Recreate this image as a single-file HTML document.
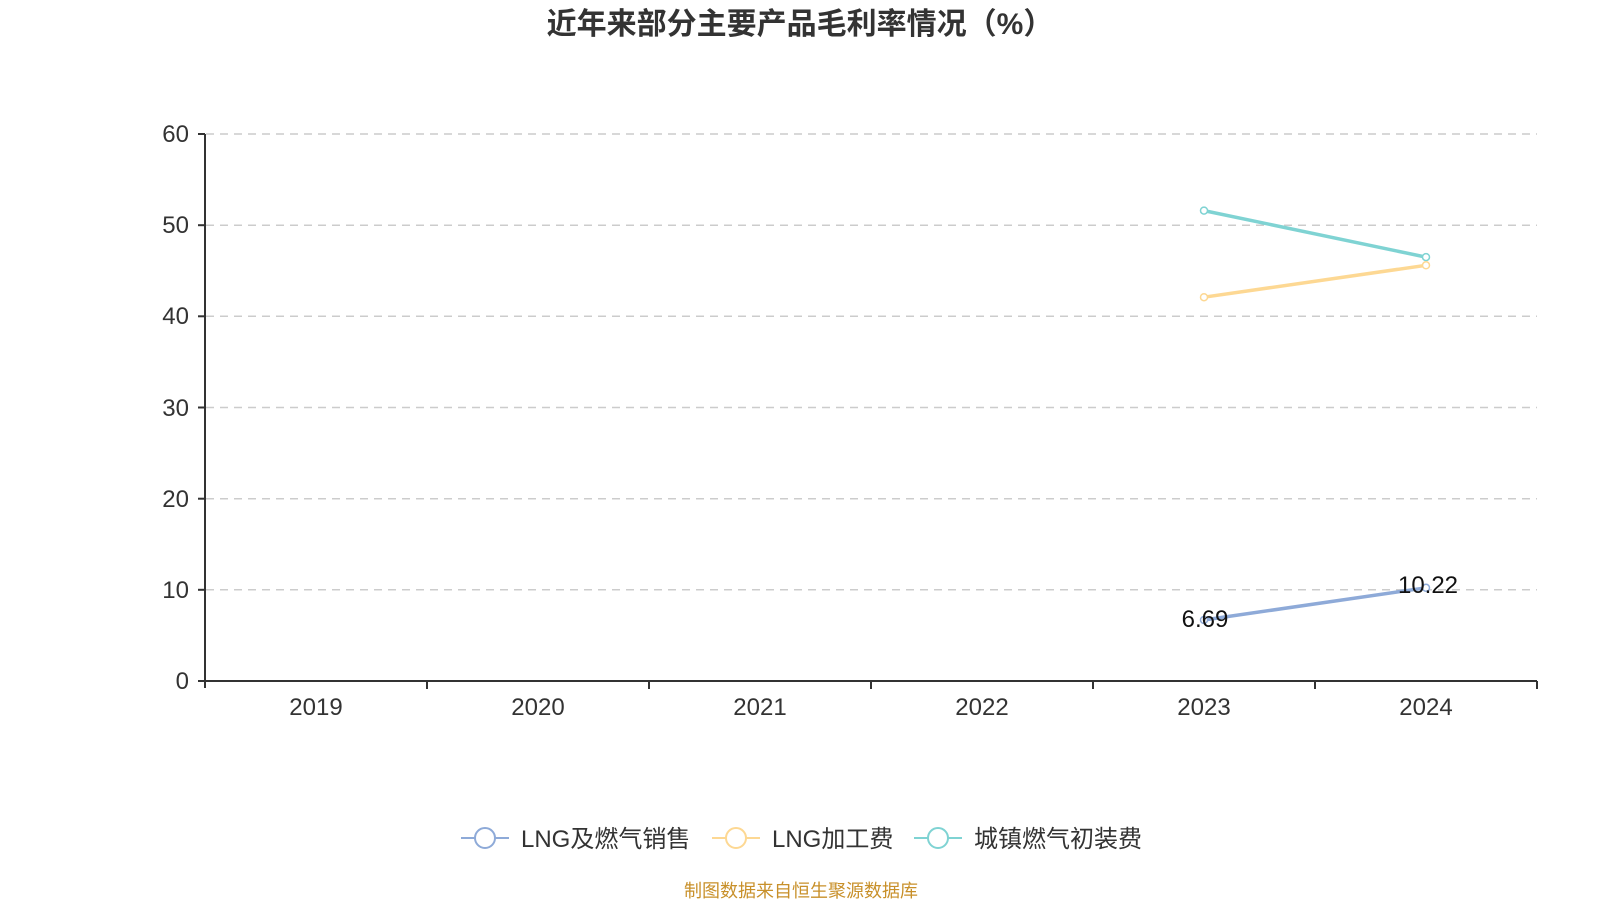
<!DOCTYPE html>
<html><head><meta charset="utf-8"><style>
body{margin:0;background:#fff;width:1600px;height:900px;overflow:hidden}
text{font-family:"Liberation Sans","Noto Sans CJK SC",sans-serif}
</style></head><body>
<svg width="1600" height="900" xmlns="http://www.w3.org/2000/svg">
<text x="800" y="34" text-anchor="middle" font-size="30" font-weight="bold" fill="#333">近年来部分主要产品毛利率情况（%）</text>
<g stroke="#ccc" stroke-width="1.5" stroke-dasharray="8,6">
<line x1="206" x2="1537" y1="134" y2="134"/>
<line x1="206" x2="1537" y1="225.2" y2="225.2"/>
<line x1="206" x2="1537" y1="316.3" y2="316.3"/>
<line x1="206" x2="1537" y1="407.5" y2="407.5"/>
<line x1="206" x2="1537" y1="498.7" y2="498.7"/>
<line x1="206" x2="1537" y1="589.8" y2="589.8"/>
</g>
<g stroke="#333" stroke-width="2">
<line x1="205" y1="134" x2="205" y2="688"/>
<line x1="205" y1="681" x2="1537" y2="681"/>
<line x1="198" x2="205" y1="134" y2="134"/><line x1="198" x2="205" y1="225.2" y2="225.2"/>
<line x1="198" x2="205" y1="316.3" y2="316.3"/><line x1="198" x2="205" y1="407.5" y2="407.5"/>
<line x1="198" x2="205" y1="498.7" y2="498.7"/><line x1="198" x2="205" y1="589.8" y2="589.8"/>
<line x1="198" x2="205" y1="681" y2="681"/>
<line x1="427" x2="427" y1="681" y2="689"/><line x1="649" x2="649" y1="681" y2="689"/>
<line x1="871" x2="871" y1="681" y2="689"/><line x1="1093" x2="1093" y1="681" y2="689"/>
<line x1="1315" x2="1315" y1="681" y2="689"/><line x1="1537" x2="1537" y1="681" y2="689"/>
</g>
<g font-size="24" fill="#333" text-anchor="end">
<text x="189" y="142">60</text><text x="189" y="233">50</text><text x="189" y="324">40</text>
<text x="189" y="416">30</text><text x="189" y="507">20</text><text x="189" y="598">10</text><text x="189" y="689">0</text>
</g>
<g font-size="24" fill="#333" text-anchor="middle">
<text x="316" y="715">2019</text><text x="538" y="715">2020</text><text x="760" y="715">2021</text>
<text x="982" y="715">2022</text><text x="1204" y="715">2023</text><text x="1426" y="715">2024</text>
</g>
<g fill="#fff" stroke-width="3.5">
<line x1="1204" y1="210.6" x2="1426" y2="257.1" stroke="#7fd3d3"/>
<line x1="1204" y1="297.2" x2="1426" y2="265.3" stroke="#fdd893"/>
<line x1="1204" y1="620" x2="1426" y2="587.8" stroke="#8eaad8"/>
<g stroke-width="1.5">
<circle cx="1204" cy="210.6" r="3.5" stroke="#7fd3d3"/><circle cx="1426" cy="257.1" r="3.5" stroke="#7fd3d3"/>
<circle cx="1204" cy="297.2" r="3.5" stroke="#fdd893"/><circle cx="1426" cy="265.3" r="3.5" stroke="#fdd893"/>
<circle cx="1204" cy="620" r="3.5" stroke="#8eaad8"/><circle cx="1426" cy="587.8" r="3.5" stroke="#8eaad8"/>
</g></g>
<g font-size="24" fill="#111" text-anchor="middle">
<text x="1205" y="627">6.69</text><text x="1428" y="593">10.22</text>
</g>
<g stroke-width="2" fill="#fff">
<line x1="461" x2="509" y1="838" y2="838" stroke="#8eaad8"/><circle cx="485" cy="838" r="10" stroke="#8eaad8"/>
<line x1="712" x2="760" y1="838" y2="838" stroke="#fdd893"/><circle cx="736" cy="838" r="10" stroke="#fdd893"/>
<line x1="914" x2="962" y1="838" y2="838" stroke="#7fd3d3"/><circle cx="938" cy="838" r="10" stroke="#7fd3d3"/>
</g>
<g font-size="24" fill="#333">
<text x="521" y="847">LNG及燃气销售</text><text x="772" y="847">LNG加工费</text><text x="974" y="847">城镇燃气初装费</text>
</g>
<text x="801" y="897" text-anchor="middle" font-size="18" fill="#c8902a">制图数据来自恒生聚源数据库</text>
</svg>
</body></html>
